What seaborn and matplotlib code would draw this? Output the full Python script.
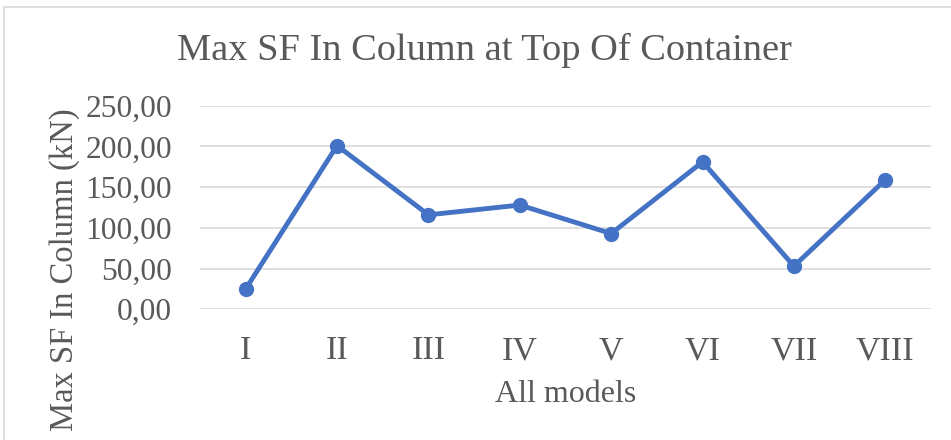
import matplotlib
matplotlib.use("Agg")
import matplotlib.pyplot as plt
import seaborn as sns
import pandas as pd
from matplotlib.patches import Rectangle

models = ["I", "II", "III", "IV", "V", "VI", "VII", "VIII"]
max_sf = [25, 201, 116, 128, 93, 181, 53, 159]
y_ticks = [0, 50, 100, 150, 200, 250]
y_tick_labels = ["0,00", "50,00", "100,00", "150,00", "200,00", "250,00"]

sns.set_theme(style="white")
plt.rcParams['font.family'] = ['Liberation Serif', 'DejaVu Serif']

df = pd.DataFrame({"model": models, "sf": max_sf})
df["pos"] = range(len(models))

fig = plt.figure(figsize=(9.51, 4.4), dpi=100)
ax = fig.add_axes([200/951, 130.7/440, 731/951, 203.6/440])

sns.lineplot(data=df, x="pos", y="sf", ax=ax, color="#4472C4", linewidth=3.5,
             marker="o", markersize=11, markeredgewidth=0, markeredgecolor="#4472C4",
             zorder=3)

ax.set_xlim(-0.5, len(models) - 0.5)
ax.set_ylim(0, 250)
ax.set_xticks(range(len(models)))
ax.set_xticklabels(models)
ax.set_yticks(y_ticks)
ax.set_yticklabels(y_tick_labels)
ax.grid(axis="y", color="#D9D9D9", linewidth=1.2)
ax.grid(axis="x", visible=False)
for s in ax.spines.values():
    s.set_visible(False)
ax.tick_params(axis="both", length=0, colors="#595959")
ax.tick_params(axis="y", labelsize=22.7, pad=20)
ax.tick_params(axis="x", labelsize=24.5, pad=19)

ax.set_xlabel("All models", fontsize=23, color="#595959", labelpad=10)
ax.set_ylabel("Max SF In Column (kN)", fontsize=23.5, color="#595959")
ax.yaxis.label.set_va("center")
ax.yaxis.set_label_coords((65 - 200) / 731, (309.3 - 270) / 203.6)

fig.text(484/951, 1 - 50/440, "Max SF In Column at Top Of Container",
         ha="center", va="center", fontsize=27.6, color="#595959")

fig.patches.append(Rectangle((4/951, -0.1), 1.2, 1.1 - 7/440,
                             transform=fig.transFigure, fill=False,
                             edgecolor="#D9D9D9", linewidth=1.2))

fig.savefig("out.png", dpi=100, facecolor="white")
